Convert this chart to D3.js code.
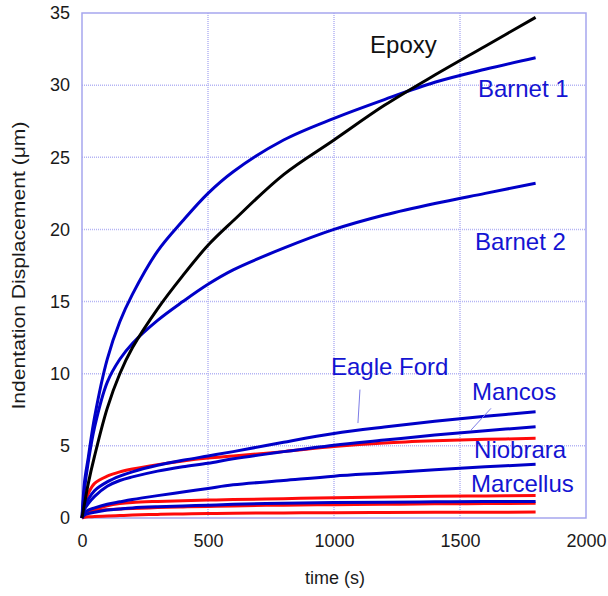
<!DOCTYPE html>
<meta charset="utf-8">
<head>
<style>
body { margin: 0; background: #fff; }
text { font-family: "Liberation Sans", Arial, sans-serif; }
</style>
</head>
<body>
<svg width="608" height="596"></svg>

<script src="https://d3js.org/d3.v7.min.js"></script>
<script>
// time (s) sample points shared by all the curves
var times = [0, 10, 25, 50, 100, 150, 200, 300, 400, 500, 600, 800, 1000, 1200, 1400, 1600, 1800];

// displacement (um)
var epoxy     = [0, 1.0, 2.4, 4.3, 7.6, 10.0, 11.8, 14.5, 16.8, 18.9, 20.6, 23.8, 26.2, 28.6, 30.7, 32.7, 34.7];
var barnet1   = [0, 2.5, 4.2, 7.0, 11.0, 13.6, 15.5, 18.5, 20.6, 22.5, 24.0, 26.2, 27.7, 29.0, 30.2, 31.1, 31.9];
var barnet2   = [0, 2.0, 3.9, 6.3, 9.4, 11.0, 12.1, 13.7, 15.0, 16.2, 17.2, 18.7, 20.0, 21.0, 21.8, 22.5, 23.2];
var eagleFord = [0, 0.8, 1.3, 1.9, 2.5, 2.9, 3.2, 3.65, 4.0, 4.3, 4.6, 5.25, 5.85, 6.3, 6.7, 7.05, 7.36];
var mancos    = [0, 0.6, 1.0, 1.5, 2.2, 2.6, 2.85, 3.25, 3.55, 3.8, 4.1, 4.6, 5.05, 5.4, 5.75, 6.05, 6.32];
var niobrara  = [0, 0.35, 0.55, 0.7, 0.95, 1.12, 1.28, 1.55, 1.8, 2.05, 2.3, 2.6, 2.9, 3.12, 3.35, 3.55, 3.72];
var marcellus = [0, 0.2, 0.3, 0.4, 0.55, 0.63, 0.7, 0.78, 0.84, 0.89, 0.95, 1.03, 1.07, 1.1, 1.12, 1.14, 1.15];
// red runs
var red1 = [0, 1.0, 1.7, 2.4, 2.9, 3.2, 3.4, 3.7, 3.95, 4.15, 4.3, 4.6, 4.95, 5.2, 5.35, 5.45, 5.52];
var red2 = [0, 0.3, 0.5, 0.6, 0.85, 1.0, 1.08, 1.15, 1.2, 1.24, 1.28, 1.34, 1.4, 1.45, 1.5, 1.53, 1.56];
var red3 = [0, 0.25, 0.4, 0.5, 0.58, 0.62, 0.66, 0.72, 0.77, 0.8, 0.84, 0.89, 0.92, 0.95, 0.98, 1.0, 1.02];
var red4 = [0, 0.05, 0.08, 0.1, 0.14, 0.17, 0.2, 0.25, 0.28, 0.31, 0.33, 0.35, 0.37, 0.38, 0.39, 0.4, 0.41];

var xTicks = [0, 500, 1000, 1500, 2000];
var yTicks = [0, 5, 10, 15, 20, 25, 30, 35];

// label text and where it sits (time, displacement)
var labelNames = ["Epoxy", "Barnet 1", "Barnet 2", "Eagle Ford", "Mancos", "Niobrara", "Marcellus"];
var labelT     = [1143, 1571, 1560, 988, 1548, 1556, 1544];
var labelV     = [32.2, 29.2, 18.6, 9.9, 8.2, 4.16, 1.8];

var svg = d3.select("svg"),
    margin = {top: 13, right: 22, bottom: 78, left: 82},
    width = +svg.attr("width") - margin.left - margin.right,
    height = +svg.attr("height") - margin.top - margin.bottom,
    g = svg.append("g").attr("transform", "translate(" + margin.left + "," + margin.top + ")");

var x = d3.scaleLinear().domain([0, 2000]).range([0, width]),
    y = d3.scaleLinear().domain([0, 35]).range([height, 0]);

var gridColor = "#b4b4f4";

// grid
g.append("g")
  .selectAll("line").data(xTicks.slice(1, -1)).enter().append("line")
    .attr("x1", function(d) { return x(d); }).attr("x2", function(d) { return x(d); })
    .attr("y1", 0).attr("y2", height)
    .attr("stroke", gridColor).attr("stroke-width", 1.5).style("stroke-dasharray", "1,1");
g.append("g")
  .selectAll("line").data(yTicks.slice(1, -1)).enter().append("line")
    .attr("x1", 0).attr("x2", width)
    .attr("y1", function(d) { return y(d); }).attr("y2", function(d) { return y(d); })
    .attr("stroke", gridColor).attr("stroke-width", 1.5).style("stroke-dasharray", "1,1");

// axes (labels only, frame drawn below)
var xAxis = g.append("g")
    .attr("transform", "translate(0," + height + ")")
    .call(d3.axisBottom(x).tickValues(xTicks).tickFormat(d3.format("d")).tickSize(0).tickPadding(16));
var yAxis = g.append("g")
    .call(d3.axisLeft(y).tickValues(yTicks).tickFormat(d3.format("d")).tickSize(0).tickPadding(12));
[xAxis, yAxis].forEach(function(a) {
  a.select(".domain").remove();
  a.selectAll("text")
    .style("font-family", "'Liberation Sans', Arial, sans-serif")
    .style("font-size", "18px")
    .attr("fill", "#1a1a1a");
});

// frame
g.append("rect")
  .attr("width", width).attr("height", height)
  .attr("fill", "none").attr("stroke", "#a6a6ee").attr("stroke-width", 1.5);

var line = d3.line()
    .curve(d3.curveCatmullRom.alpha(0.5))
    .x(function(d, i) { return x(times[i]); })
    .y(function(d) { return y(d); });

function draw(values, color) {
  g.append("path")
    .attr("fill", "none")
    .attr("stroke", color)
    .attr("stroke-width", 3)
    .attr("stroke-linejoin", "round")
    .attr("d", line(values));
}

var blue = "#0000c8";
[red4, red3, red2, red1].forEach(function(s) { draw(s, "#ff0a0a"); });
[marcellus, niobrara, mancos, eagleFord, barnet2, barnet1].forEach(function(s) { draw(s, blue); });
draw(epoxy, "#000");

// leader lines for Eagle Ford and Mancos
var leaders = [[1103, 8.9, 1095, 6.58], [1623, 7.6, 1544, 6.1]];
g.selectAll(".leader").data(leaders).enter().append("line")
    .attr("class", "leader")
    .attr("x1", function(d) { return x(d[0]); }).attr("y1", function(d) { return y(d[1]); })
    .attr("x2", function(d) { return x(d[2]); }).attr("y2", function(d) { return y(d[3]); })
    .attr("stroke", "#7c7ce6").attr("stroke-width", 1);

// series labels
g.selectAll(".lbl").data(labelNames).enter().append("text")
    .attr("class", "lbl")
    .attr("x", function(d, i) { return x(labelT[i]); })
    .attr("y", function(d, i) { return y(labelV[i]); })
    .attr("fill", function(d, i) { return i === 0 ? "#111" : "#1414d2"; })
    .style("font-size", "24px")
    .text(function(d) { return d; });

// axis titles
svg.append("text")
    .attr("x", 335)
    .attr("y", 584)
    .attr("text-anchor", "middle")
    .attr("fill", "#1a1a1a")
    .style("font-size", "18px")
    .text("time (s)");
svg.append("text")
    .attr("transform", "translate(25," + (margin.top + height / 2) + ") rotate(-90)")
    .attr("text-anchor", "middle")
    .attr("fill", "#1a1a1a")
    .style("font-size", "18px")
    .attr("textLength", 288)
    .attr("lengthAdjust", "spacingAndGlyphs")
    .text("Indentation Displacement (\u03bcm)");
</script>
</body>
